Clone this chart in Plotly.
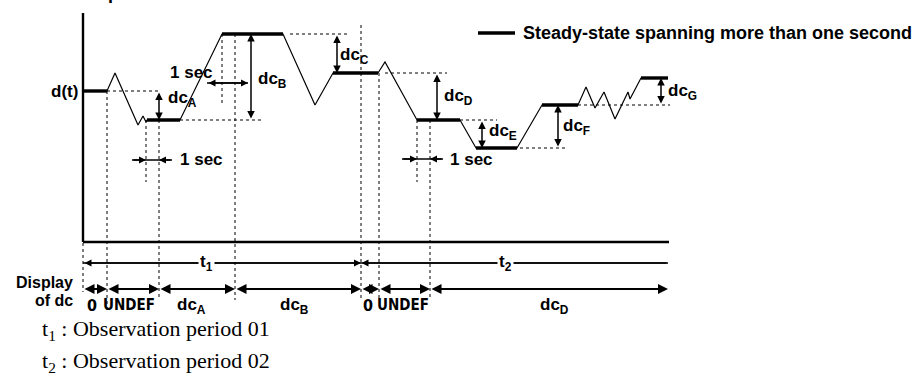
import plotly.graph_objects as go

W, H = 920, 383
INK = "#000000"
SANS = "Liberation Sans, Arial, Helvetica, sans-serif"
NARROW = "Liberation Sans Narrow, DejaVu Sans Condensed, Arial Narrow, sans-serif"
SERIF = "Liberation Serif, Times New Roman, serif"

# --- signal d(t): sample times and levels (drawing units, level grows downward)
wave_t = [83, 107, 115, 138, 143, 146, 147, 180, 222, 283, 315, 333, 378, 385,
          417, 460, 476, 517, 542, 578, 586, 595, 604, 615, 628, 630, 641, 668]
wave_d = [91, 91, 73, 125, 116, 122, 120, 120, 34, 34, 105, 73, 73, 62,
          120, 120, 148, 148, 105, 105, 87, 108, 92, 119, 92, 99, 78, 78]

# --- steady states lasting more than one second
steady_start = [83, 147, 222, 333, 417, 476, 542, 641]
steady_end = [107, 180, 283, 378, 460, 517, 578, 668]
steady_level = [91, 120, 34, 73, 120, 148, 105, 78]

# --- dc changes between consecutive steady states
dc_names = ["A", "B", "C", "D", "E", "F", "G"]
dc_x = [159, 251, 337, 437, 482, 558, 661]
dc_from = [91, 120, 34, 73, 120, 148, 105]
dc_to = [120, 34, 73, 120, 148, 105, 78]
dc_label_x = [166, 256, 338, 442, 487, 561, 666]
dc_label_y = [99, 80, 56, 97, 132, 127, 92]

# --- previous-level reference lines
ref_level = [91, 120, 34, 73, 120, 148, 105]
ref_start = [107, 180, 290, 385, 460, 520, 578]
ref_end = [160, 262, 350, 447, 497, 568, 670]

# --- vertical guide lines
guide_x = [83, 107, 146, 159, 222, 235, 361, 379, 417, 430]
guide_top = [243, 91, 120, 120, 34, 34, 25, 73, 120, 120]
guide_bottom = [292, 310, 182, 300, 105, 300, 300, 300, 182, 300]

# --- "1 sec" markers: line span, arrow tips, label position
sec_left = [132, 207, 402]
sec_right = [172, 248, 443]
sec_tip_left = [146, 207, 417]
sec_tip_right = [159, 248, 430]
sec_level = [160, 83, 159]
sec_inward = [True, False, True]
sec_label_x = [178, 168, 448]
sec_label_y = [159, 72, 159]

# --- axes
axis_origin_x, axis_end_x = 83, 669
axis_top_y, axis_base_y = 13, 242

# --- observation periods
period_names = ["t<sub>1</sub>", "t<sub>2</sub>"]
period_start = [83, 361]
period_end = [361, 668]
period_label_x = [206, 505]
period_row_y = 263

# --- displayed dc value per interval
display_edges = [83, 107, 159, 235, 361, 379, 430, 668]
display_text = ["0", "UNDEF", "dc<sub>A</sub>", "dc<sub>B</sub>", "0", "UNDEF", "dc<sub>D</sub>"]
display_label_x = [92, 129, 191, 294, 368, 403, 554]
display_row_y = 289
display_label_y = 306

footnotes = ["t<sub>1</sub> : Observation period 01", "t<sub>2</sub> : Observation period 02"]
footnote_y = [330, 362]


def segments(x0s, x1s, y0s, y1s):
    xs, ys = [], []
    for a, b, c, d in zip(x0s, x1s, y0s, y1s):
        xs += [a, b, None]
        ys += [c, d, None]
    return xs, ys


fig = go.Figure()

# axes of the d(t) plot
ax_x, ax_y = segments([axis_origin_x, axis_origin_x], [axis_origin_x, axis_end_x],
                      [axis_top_y, axis_base_y], [axis_base_y, axis_base_y])
fig.add_trace(go.Scatter(x=ax_x, y=ax_y, mode="lines", line=dict(color=INK, width=2.4),
                         hoverinfo="skip"))

# dashed guides and reference levels
gx, gy = segments(guide_x, guide_x, guide_top, guide_bottom)
rx, ry = segments(ref_start, ref_end, ref_level, ref_level)
fig.add_trace(go.Scatter(x=gx + rx, y=gy + ry, mode="lines",
                         line=dict(color=INK, width=1, dash="3px,3px"), hoverinfo="skip"))

# the signal
fig.add_trace(go.Scatter(x=wave_t, y=wave_d, mode="lines",
                         line=dict(color=INK, width=1.2), hoverinfo="skip"))

# steady-state plateaus
sx, sy = segments(steady_start, steady_end, steady_level, steady_level)
fig.add_trace(go.Scatter(x=sx, y=sy, mode="lines", line=dict(color=INK, width=3.4),
                         hoverinfo="skip"))

# legend sample
fig.add_trace(go.Scatter(x=[478, 515], y=[33, 33], mode="lines",
                         line=dict(color=INK, width=3.4), hoverinfo="skip"))

# "1 sec" marker lines
mx, my = segments(sec_left, sec_right, sec_level, sec_level)
fig.add_trace(go.Scatter(x=mx, y=my, mode="lines", line=dict(color=INK, width=1.4),
                         hoverinfo="skip"))

# period row lines (labels sit on white boxes that break the line)
px, py = segments(period_start, period_end, [period_row_y] * 2, [period_row_y] * 2)
fig.add_trace(go.Scatter(x=px, y=py, mode="lines", line=dict(color=INK, width=1.4),
                         hoverinfo="skip"))

ann = []


def arrow(x0, y0, x1, y1, both=False, width=1.4, size=1.0):
    ann.append(dict(x=x1, y=y1, ax=x0, ay=y0, xref="x", yref="y", axref="x", ayref="y",
                    text="", showarrow=True, arrowhead=2, arrowsize=size,
                    arrowwidth=width, arrowcolor=INK, standoff=0, startstandoff=0,
                    arrowside="end+start" if both else "end", startarrowhead=2,
                    startarrowsize=size))


def label(x, y, text, size=17, xanchor="left", family=SANS, bold=True, bg=None):
    d = dict(x=x, y=y, xref="x", yref="y", text=text, showarrow=False,
             xanchor=xanchor, yanchor="middle",
             font=dict(family=family, size=size, color=INK,
                       weight="bold" if bold else "normal"))
    if bg:
        d["bgcolor"] = bg
    ann.append(d)


# dc change arrows and their names
for name, x, a, b, lx, ly in zip(dc_names, dc_x, dc_from, dc_to, dc_label_x, dc_label_y):
    arrow(x, a, x, b, both=True, width=1.5)
    label(lx, ly, f"dc<sub>{name}</sub>")

# one-second markers
for l, r, tl, tr, y, inward, lx, ly in zip(sec_left, sec_right, sec_tip_left, sec_tip_right,
                                          sec_level, sec_inward, sec_label_x, sec_label_y):
    if inward:
        arrow(l, y, tl, y)
        arrow(r, y, tr, y)
    else:
        arrow(l, y, r, y, both=True)
    label(lx, ly, "1 sec")

# observation periods
arrow(period_start[0], period_row_y, period_end[0], period_row_y, both=True)
arrow(period_end[1], period_row_y, period_start[1] + 0.5, period_row_y)
for name, lx in zip(period_names, period_label_x):
    label(lx, period_row_y, name, size=17, xanchor="center", bg="white")

# display row
for a, b in zip(display_edges[:-1], display_edges[1:]):
    arrow(a, display_row_y, b, display_row_y, both=True, width=2)
for t, lx in zip(display_text, display_label_x):
    if t == "UNDEF":
        label(lx, display_label_y - 1, t, size=15, xanchor="center", family=NARROW)
    elif t == "0":
        label(lx, display_label_y - 1, t, size=16, xanchor="center", family=NARROW)
    else:
        label(lx, display_label_y, t, size=17, xanchor="center")

# row / axis titles
label(80, 91, "d(t)", xanchor="right")
label(75, 282, "Display", size=16, xanchor="right")
label(75, 300, "of dc", size=16, xanchor="right")
label(521, 33, "Steady-state spanning more than one second", size=18)

# heading (runs off the top edge)
ann.append(dict(x=58, y=5.5, xref="x", yref="y", text="Example of dc", showarrow=False,
                xanchor="left", yanchor="bottom",
                font=dict(family=SANS, size=18, color=INK, weight="bold")))

# footnotes
for t, y in zip(footnotes, footnote_y):
    label(40, y, t, size=22, family=SERIF, bold=False)

fig.update_layout(
    width=W, height=H, margin=dict(l=0, r=0, t=0, b=0),
    paper_bgcolor="white", plot_bgcolor="white", showlegend=False,
    xaxis=dict(range=[0, W], visible=False, fixedrange=True),
    yaxis=dict(range=[H, 0], visible=False, fixedrange=True),
    annotations=ann,
)

fig.write_html("out.html")
